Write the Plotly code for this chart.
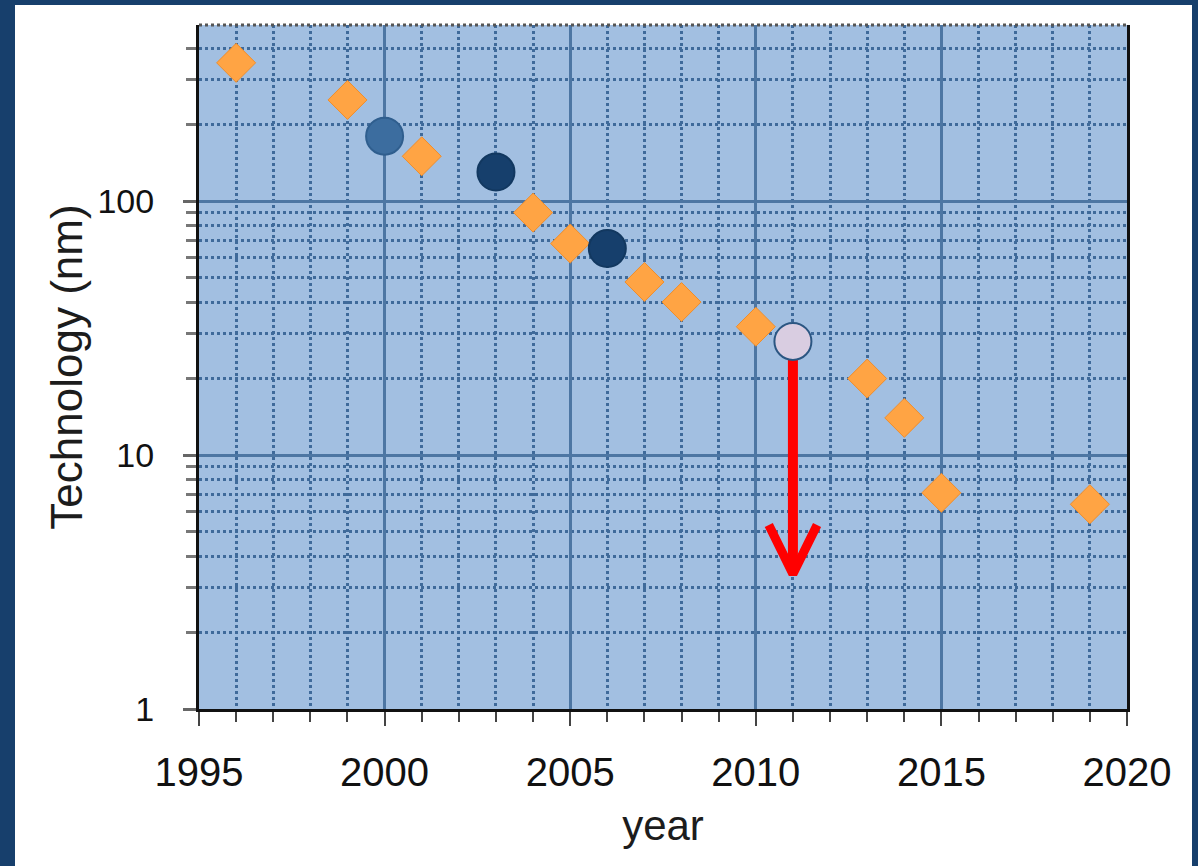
import plotly.graph_objects as go

# ---- data ----
diamond_years = [1996, 1999, 2001, 2004, 2005, 2007, 2008, 2010, 2013, 2014, 2015, 2019]
diamond_nm = [350, 250, 150, 90, 68, 48, 40, 32, 20, 14, 7.1, 6.4]

circle_years = [2000, 2003, 2006, 2011]
circle_nm = [180, 130, 65, 28]
circle_fill = ["#3c6d9f", "#163f6c", "#163f6c", "#d9cde1"]
circle_edge = ["#2f5e8e", "#123860", "#123860", "#2b5682"]

arrow_year = [2011, 2011]
arrow_nm = [24.0, 3.5]
arrow_head_years = [2010.35, 2011, 2011.65]
arrow_head_nm = [5.3, 3.4, 5.3]

x_ticks = [1995, 2000, 2005, 2010, 2015, 2020]
y_ticks = [1, 10, 100]
y_tick_labels = ["1", "10", "100"]

W, H = 1198, 866
L, R, T, B = 199, 71, 25, 157

fig = go.Figure()

fig.add_trace(go.Scatter(
    x=arrow_year, y=arrow_nm, mode="lines",
    line=dict(color="#ff0000", width=10),
    showlegend=False, hoverinfo="skip"))
fig.add_trace(go.Scatter(
    x=arrow_head_years, y=arrow_head_nm, mode="lines",
    line=dict(color="#ff0000", width=9),
    showlegend=False, hoverinfo="skip"))

fig.add_trace(go.Scatter(
    x=diamond_years, y=diamond_nm, mode="markers",
    marker=dict(symbol="diamond", size=30, color="#ffa444",
                line=dict(color="#f08d2a", width=1)),
    showlegend=False, hoverinfo="x+y"))

fig.add_trace(go.Scatter(
    x=circle_years, y=circle_nm, mode="markers",
    marker=dict(symbol="circle", size=37, color=circle_fill,
                line=dict(color=circle_edge, width=2)),
    showlegend=False, hoverinfo="x+y"))

font_family = "Liberation Sans, Arial, sans-serif"

fig.update_layout(
    width=W, height=H,
    margin=dict(l=L, r=R, t=T, b=B, pad=0),
    paper_bgcolor="white",
    plot_bgcolor="#a2bfe1",
    font=dict(family=font_family, color="#1c1c1c"),
    xaxis=dict(
        range=[1995, 2020], tickvals=x_ticks, ticktext=[str(v) for v in x_ticks],
        showgrid=True, gridcolor="#4d76a3", gridwidth=3,
        ticks="outside", ticklen=14, tickwidth=2, tickcolor="#444",
        showline=True, linecolor="#111", linewidth=3, mirror=False,
        tickfont=dict(size=40, color="#111"),
        ticklabelstandoff=12,
        minor=dict(dtick=1, showgrid=True, gridcolor="#3f6a9a", gridwidth=2.5,
                   griddash="dot", ticks="outside", ticklen=10, tickwidth=2,
                   tickcolor="#444"),
        title=dict(text="year", font=dict(size=42, color="#1c1c1c"), standoff=18),
        zeroline=False, fixedrange=True,
    ),
    yaxis=dict(
        type="log", range=[0, 2.693], tickvals=y_ticks, ticktext=y_tick_labels,
        showgrid=True, gridcolor="#4d76a3", gridwidth=3,
        ticks="outside", ticklen=13, tickwidth=3, tickcolor="#666",
        showline=True, linecolor="#111", linewidth=3, mirror=True,
        tickfont=dict(size=34, color="#111"),
        ticklabelstandoff=22,
        minor=dict(dtick="D1", showgrid=True, gridcolor="#3f6a9a", gridwidth=2.5,
                   griddash="dot", ticks="outside", ticklen=10, tickwidth=3,
                   tickcolor="#777"),
        title=dict(text="Technology (nm)", font=dict(size=44, color="#1c1c1c"), standoff=2),
        zeroline=False, fixedrange=True,
    ),
)

# navy frame around the slide (pixel-based strips)
navy = "#173f6c"
pw = W - L - R
ph = H - T - B
def px_x(p):
    return (p - L) / pw
def px_y(p):
    return 1 - (p - T) / ph
frame = [
    (0, 0, W, 5),
    (0, 0, 15, H),
    (1192, 0, W, H),
]
for x0, y0, x1, y1 in frame:
    fig.add_shape(type="rect", xref="paper", yref="paper",
                  x0=px_x(x0), x1=px_x(x1), y0=px_y(y1), y1=px_y(y0),
                  fillcolor=navy, line=dict(width=0), layer="above")

# dotted top edge of the plot frame
fig.add_shape(type="line", xref="paper", yref="paper", x0=0, x1=1, y0=1, y1=1,
              line=dict(color="#555", width=3, dash="dot"), layer="above")

fig.write_html("out.html", config={"displayModeBar": False},
               post_script="document.body.style.margin='0';document.body.style.overflow='hidden';")
